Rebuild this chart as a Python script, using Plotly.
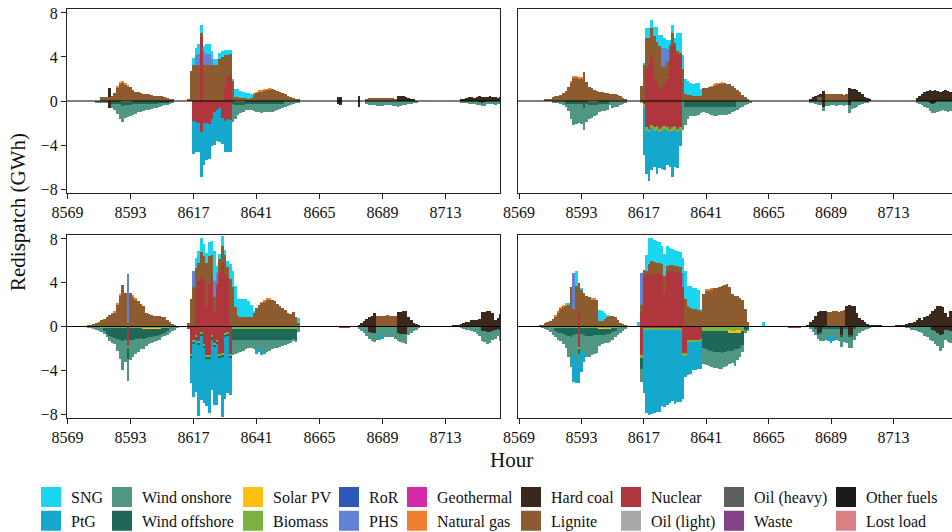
import plotly.graph_objects as go

# ---------------- data ----------------
HOURS = list(range(8569, 8737))
X_TICKS = [8569, 8593, 8617, 8641, 8665, 8689, 8713]
Y_TICKS = [-8, -4, 0, 4, 8]

SERIES = ["SNG", "PtG", "Wind onshore", "Wind offshore", "Solar PV", "Biomass",
          "RoR", "PHS", "Geothermal", "Natural gas", "Hard coal", "Lignite",
          "Nuclear", "Oil (light)", "Oil (heavy)", "Waste", "Other fuels", "Lost load"]
COLORS = ["#1ad5ef", "#14a8cc", "#4f9683", "#1f6758", "#fdbf12", "#7bb242",
          "#2d58b5", "#6183d4", "#d52aa8", "#ef8030", "#3b281d", "#8c5b2f",
          "#b0363e", "#a9a9a9", "#5e5e5e", "#82428a", "#1b1b1b", "#d88083"]

# Each series: {first hour of a run: [hourly values in GWh]}

# ---- top-left panel ----
TL_UP_LIGNITE = {
    8582: [0.35, 0.4, 0.4, 0.35, 0.5, 0.7, 1.2, 1.55, 1.7, 1.5, 1.35, 1.25, 1.0, 0.85, 0.8, 0.7, 0.65, 0.6,
           0.6, 0.55, 0.5, 0.5, 0.5, 0.45, 0.4, 0.3, 0.2, 0.1],
    8615: [0.2, 2.7, 3.3, 3.3, 3.3, 0.4, 3.3, 3.3, 3.3, 3.3, 3.3, 3.3, 3.8, 4.0, 2.8, 2.0, 1.9, 1.9, 0.4, 0.35,
           0.3, 0.3, 0.25, 0.2, 0.3, 0.6, 0.75, 0.85, 0.9, 0.95, 1.0, 1.05, 1.05, 1.0, 0.9, 0.8, 0.7, 0.6, 0.5,
           0.4, 0.3, 0.2, 0.1],
    8683: [0.2, 0.25, 0.3, 0.3, 0.25, 0.3, 0.3, 0.25, 0.3, 0.3, 0.25, 0.2],
}
TL_UP_HARDCOAL = {8585: [0.8], 8672: [0.35, 0.4], 8680: [0.45],
                  8695: [0.45, 0.45, 0.45, 0.4, 0.3, 0.2, 0.1],
                  8719: [0.1, 0.2, 0.3, 0.35, 0.4, 0.3, 0.35, 0.45, 0.4, 0.35, 0.4, 0.45, 0.4, 0.35, 0.3, 0.35]}
TL_DN_HARDCOAL = {8585: [-0.6], 8672: [-0.3, -0.35], 8680: [-0.5], 8726: [-0.1, -0.15, -0.1]}
TL_UP_NUCLEAR = {8620: [5.8], 8629: [1.4, 2.2, 2.4]}
TL_DN_NUCLEAR = {8617: [-1.8, -1.9, -2.0, -2.8, -2.0, -2.0, -2.1, -1.6, -1.0, -0.8, -0.6, -1.5, -1.8, -1.6, -1.7]}
TL_UP_PHS = {8618: [0.9, 1.0, 0.0, 1.2, 1.0, 1.0, 0.5]}
TL_UP_SNG = {8617: [0.6, 0.6, 0.9, 0.7, 0.5, 0.9, 0.9, 0.7, 0.5, 0.5, 0.6, 0.5, 0.4, 0.4, 0.3, 0.1, 0.7, 0.75,
                    0.6, 0.5, 0.5, 0.5, 0.3]}
TL_DN_PTG = {8617: [-3.0, -2.7, -2.6, -4.1, -3.8, -3.4, -3.2, -2.5, -3.0, -2.8, -3.1, -2.4, -2.8, -3.0, -2.9]}
TL_DN_WINDON = {
    8580: [-0.1, -0.1, -0.1, -0.15, -0.1],
    8586: [-0.3, -0.5, -0.9, -1.3, -1.5, -1.2, -1.1, -1.0, -1.0, -0.9, -0.7, -0.7, -0.6, -0.5, -0.5, -0.4,
           -0.35, -0.3, -0.3, -0.25, -0.25, -0.2, -0.15, -0.1],
    8632: [-1.6, -1.2, -0.9, -0.7, -0.6, -0.5, -0.5, -0.5, -0.6, -0.7, -0.7, -0.8, -0.7, -0.7, -0.7, -0.7,
           -0.6, -0.5, -0.4, -0.3, -0.55, -0.45, -0.35, -0.3, -0.2, -0.1],
    8683: [-0.3, -0.35, -0.4, -0.4, -0.45, -0.45, -0.45, -0.4, -0.4, -0.4, -0.45, -0.45, -0.5, -0.45, -0.4,
           -0.35, -0.3, -0.25, -0.2, -0.1],
    8719: [-0.1, -0.15, -0.2, -0.25, -0.3, -0.3, -0.35, -0.3, -0.3, -0.35, -0.3, -0.25, -0.3, -0.35, -0.3, -0.25],
}
TL_DN_WINDOFF = {
    8586: [-0.3, -0.3, -0.3, -0.3, -0.35, -0.3, -0.3, -0.3, -0.3, -0.3, -0.3, -0.3, -0.3, -0.3, -0.3, -0.3,
           -0.3, -0.3, -0.2, -0.2, -0.15, -0.15, -0.1],
    8632: [-0.3, -0.3, -0.3, -0.3, -0.3, -0.3, -0.3, -0.3, -0.3, -0.3, -0.3, -0.3, -0.3, -0.3, -0.3, -0.3,
           -0.3, -0.3, -0.3, -0.3],
}
TL_UP_NATGAS = {8588: [0.08, 0.1, 0.1, 0.08, 0.06], 8640: [0.05, 0.06, 0.06, 0.08, 0.08, 0.08, 0.06]}
TL_DN_SOLAR = {8590: [-0.06, -0.08, -0.08, -0.06], 8633: [-0.1, -0.1, -0.08, -0.08]}

# ---- top-right panel ----
TR_UP_LIGNITE = {
    8579: [0.1, 0.1, 0.15, 0.4, 0.45, 0.5, 0.55, 0.7, 0.9, 1.3, 1.7, 2.1, 2.1, 2.0, 2.05, 2.65, 1.7, 1.3, 1.2,
           1.0, 0.95, 0.85, 0.8, 0.75, 0.7, 0.65, 0.65, 0.6, 0.55, 0.5, 0.3, 0.1],
    8616: [1.4, 3.3, 2.7, 2.5, 2.6, 3.9, 3.6, 3.8, 1.9, 1.6, 1.5, 1.3, 1.0, 0.3, 0.2, 0.2, 2.9, 0.6, 0.55,
           0.55, 0.5, 0.5, 0.45, 0.45, 1.15, 1.2, 1.25, 1.3, 1.4, 1.5, 1.55, 1.6, 1.6, 1.55, 1.5, 1.35, 1.2,
           1.0, 0.8, 0.55, 0.35, 0.15],
    8684: [0.35, 0.4],
    8687: [0.6, 0.6, 0.6, 0.65, 0.6, 0.6, 0.6, 0.55, 0.6],
}
TR_UP_NUCLEAR = {8618: [3.0, 3.2, 4.0, 2.0, 1.8, 1.2, 1.2, 1.5, 2.0, 3.7, 5.2, 5.0, 4.3, 4.2]}
TR_UP_PHS = {8624: [1.7, 1.7, 1.2, 0.2]}
TR_UP_SNG = {8617: [0.1, 0.9, 0.9, 0.8, 0.8, 1.3, 1.0, 1.2, 0.9, 0.8, 0.3, 0.7, 0.4, 1.7, 1.8, 1.3, 1.4, 1.3,
                    1.1, 1.0, 1.1, 1.2, 0.6]}
TR_UP_HARDCOAL = {8681: [0.2, 0.35, 0.45, 0.2, 0.2, 0.95],
                  8696: [1.15, 1.1, 1.05, 1.0, 0.85, 0.6, 0.4, 0.25, 0.1],
                  8722: [0.3, 0.5, 0.6, 0.8, 0.9, 1.0, 0.95, 1.0, 0.9, 0.85, 0.9, 1.0, 0.9, 0.8]}
TR_DN_HARDCOAL = {8686: [-0.5], 8696: [-0.4], 8727: [-0.2, -0.3, -0.2]}
TR_DN_NUCLEAR = {8594: [-0.3],
                 8617: [-0.3, -2.4, -2.5, -2.2, -2.4, -2.3, -2.5, -2.4, -2.3, -2.4, -2.5, -2.4, -2.3, -2.5, -2.4]}
TR_DN_PTG = {8617: [-4.3, -3.9, -4.5, -3.8, -3.3, -4.0, -3.3, -3.5, -3.7, -3.1, -3.2, -4.2, -3.4, -3.3, -1.5]}
TR_DN_BIOMASS = {8616: [-0.2, -0.3, -0.3, -0.3, -0.25, -0.3, -0.3, -0.3, -0.3, -0.25, -0.3, -0.3, -0.3,
                        -0.3, -0.3, -0.2]}
TR_DN_WINDON = {
    8582: [-0.1, -0.15, -0.2, -0.25, -0.35, -0.2, -0.6, -1.3, -1.9, -1.8, -1.7, -1.8, -2.0, -1.6, -1.3, -1.1,
           -1.0, -0.9, -0.7, -0.65, -0.6, -0.5, -0.4, -0.6, -0.55, -0.5, -0.4, -0.3, -0.15],
    8632: [-2.6, -1.7, -1.1, -0.9, -0.9, -0.85, -0.8, -0.6, -0.5, -0.55, -0.7, -0.8, -0.85, -0.85, -0.8, -0.8,
           -0.8, -0.8, -0.7, -0.5, -0.4, -0.8, -0.6, -0.5, -0.35, -0.25, -0.1],
    8681: [-0.1, -0.2, -0.3, -0.35, -0.4, -0.4, -0.45, -0.45, -0.4, -0.4, -0.45, -0.4, -0.4, -0.45, -0.4,
           -0.7, -0.7, -0.6, -0.5, -0.4, -0.3, -0.2, -0.1],
    8722: [-0.2, -0.3, -0.4, -0.5, -0.6, -0.7, -0.8, -0.9, -1.0, -0.9, -0.8, -0.9, -1.0, -0.9],
}
TR_DN_WINDOFF = {
    8587: [-0.3, -0.3, -0.3, -0.3, -0.3, -0.3, -0.3, -0.3, -0.3, -0.3, -0.3, -0.3, -0.3, -0.3, -0.3, -0.3, -0.3],
    8633: [-0.5, -0.5, -0.5, -0.5, -0.5, -0.5, -0.5, -0.5, -0.5, -0.5, -0.5, -0.5, -0.5, -0.5, -0.5, -0.5,
           -0.5, -0.5, -0.5, -0.5],
}
TR_UP_NATGAS = {8589: [0.08, 0.1, 0.1, 0.1, 0.08], 8643: [0.06, 0.08, 0.08, 0.08, 0.06]}
TR_DN_SOLAR = {8596: [-0.08, -0.1, -0.1, -0.08]}

# ---- bottom-left panel ----
BL_UP_LIGNITE = {
    8577: [0.1, 0.15, 0.25, 0.3, 0.4, 0.55, 0.7, 0.9, 1.05, 1.15, 1.3, 2.0, 2.8, 3.8, 3.1, 0.3, 3.1, 2.75, 2.5,
           2.3, 2.1, 1.9, 1.2, 1.1, 1.05, 1.0, 1.0, 0.95, 0.9, 0.85, 0.6, 0.4, 0.25, 0.1],
    8615: [0.3, 2.5, 3.6, 1.9, 1.6, 2.4, 2.2, 4.0, 2.5, 2.0, 1.5, 0.5, 1.2, 1.6, 1.7, 0.9, 4.3, 3.6, 1.8, 1.0,
           0.9, 0.9, 0.9, 0.9, 0.9, 1.3, 1.7, 2.0, 2.15, 2.3, 2.45, 2.45, 2.4, 2.3, 2.1, 1.9, 1.7, 1.5, 1.2,
           1.15, 1.3, 0.9, 0.3],
    8687: [1.0, 0.95, 1.0, 1.0, 1.05, 1.0, 0.95, 1.0],
}
BL_UP_PHS = {8592: [4.5], 8617: [1.5], 8625: [1.5, 1.0]}
BL_UP_NUCLEAR = {8618: [3.4, 4.2, 4.4, 4.2, 1.8, 3.9, 4.5, 1.2, 3.4, 5.0, 5.8, 4.8, 4.5]}
BL_UP_SNG = {8618: [1.0, 1.1, 1.3, 1.1, 0.9, 1.3, 1.3, 2.7, 0.6, 0.4, 0.9, 0.5, 0.6, 1.4, 1.5, 1.9, 1.5, 1.6,
                    1.6, 1.6, 1.4, 1.1, 0.1],
             8657: [0.5]}
BL_UP_HARDCOAL = {8680: [0.15, 0.3, 0.5, 0.7, 0.85, 1.0, 1.2],
                  8695: [1.3, 1.35, 1.4, 1.45, 0.9, 0.6, 0.35, 0.2, 0.1],
                  8716: [0.05, 0.1, 0.15, 0.25, 0.3, 0.4, 0.45, 0.55, 0.55, 0.55, 0.7, 1.3, 1.35, 1.45, 1.45,
                         1.2, 0.55, 0.8, 1.1, 1.3]}
BL_DN_NUCLEAR = {8592: [-1.8],
                 8615: [-0.2, -2.5, -1.2, -0.8, -1.3, -0.5, -1.6, -2.6, -2.6, -0.8, -1.5, -1.2, -2.5, -2.4,
                        -0.6, -0.5, -2.5],
                 8673: [-0.1, -0.1, -0.1, -0.1]}
BL_DN_PTG = {8590: [-0.4],
             8616: [-2.3, -4.8, -4.8, -6.5, -5.8, -5.0, -4.3, -4.9, -4.6, -5.3, -5.6, -3.4, -5.5, -5.6, -5.2, -3.4],
             8641: [-0.4, 0.0, -0.5],
             8688: [-0.4, -0.3]}
BL_DN_BIOMASS = {
    8582: [-0.15, -0.15, -0.15, -0.15, -0.15, -0.15, -0.15, -0.15, -0.15, -0.15, -0.15, -0.15, -0.15, -0.15,
           -0.15, -0.15, -0.15, -0.15, -0.15, -0.15, -0.15, -0.15, -0.15, -0.15, -0.15, -0.15],
    8616: [-0.2, -0.2, -0.2, -0.2, -0.2, -0.2, -0.2, -0.2, -0.2, -0.2, -0.2, -0.2, -0.2, -0.2, -0.2, -0.2,
           -0.2, -0.2, -0.2, -0.2, -0.2, -0.2, -0.2, -0.2, -0.2, -0.2, -0.2, -0.2, -0.2, -0.2, -0.2, -0.2,
           -0.2, -0.2, -0.2, -0.2, -0.2, -0.2, -0.2, -0.2, -0.2],
}
BL_DN_WINDOFF = {
    8583: [-0.3, -0.5, -0.7, -0.8, -0.9, -1.0, -1.1, -1.2, -1.1, -1.0, -1.1, -1.1, -1.0, -1.0, -0.9, -0.9,
           -0.8, -0.7, -0.7, -0.6, -0.6, -0.5, -0.5, -0.4, -0.3],
    8616: [-0.2, -0.2, -0.2, -0.2, -0.2, -0.2, -0.2, -0.2, -0.2, -0.2, -0.2, -0.2, -0.2, -0.2, -0.2, -0.2,
           -1.0, -1.0, -1.0, -1.0, -1.0, -1.0, -1.0, -1.0, -1.0, -1.0, -1.0, -1.0, -1.0, -1.0, -1.0, -1.0,
           -1.0, -1.0, -1.0, -1.0, -1.0, -1.0, -1.0, -1.0, -1.0],
}
BL_DN_WINDON = {
    8577: [-0.1, -0.15, -0.2, -0.3, -0.4, -0.35, -0.25, -0.35, -0.45, -0.55, -0.55, -1.05, -1.75, -2.25, -1.95,
           -2.05, -1.85, -1.55, -1.35, -1.15, -1.05, -0.95, -0.75, -0.65, -0.55, -0.55, -0.45, -0.45, -0.35,
           -0.35, -0.35, -0.6, -0.45, -0.3, -0.15],
    8632: [-1.4, -1.3, -1.2, -1.1, -1.0, -0.9, -0.8, -0.8, -0.9, -0.9, -1.1, -0.9, -1.3, -1.1, -1.0, -0.9,
           -0.8, -0.8, -0.7, -0.6, -0.5, -0.4, -0.3, -0.1, -0.2, -0.5],
    8680: [-0.2, -0.4, -0.6, -0.9, -0.6, -0.7, -0.8, -1.2, -0.8, -0.8, -1.0, -1.0, -1.0, -1.0, -1.1, -0.7,
           -0.7, -0.8, -0.9, -0.8, -0.6, -0.4, -0.3, -0.15],
    8719: [-0.1, -0.2, -0.3, -0.35, -0.4, -0.5, -0.7, -0.9, -0.9, -1.0, -1.1, -1.0, -0.8, -0.8, -0.7, -1.0, -0.9],
}
BL_DN_HARDCOAL = {8684: [-0.5, -0.6, -0.6], 8695: [-0.6, -0.7, -0.7, -0.7],
                  8727: [-0.4, -0.4, -0.5, -0.5, -0.4, -0.3, -0.2, -0.3, -0.3]}
BL_UP_NATGAS = {8586: [0.08, 0.1, 0.1, 0.1], 8594: [0.08, 0.08], 8643: [0.06, 0.06, 0.08, 0.08]}
BL_DN_SOLAR = {8598: [-0.1, -0.1, -0.1, -0.1, -0.12, -0.12, -0.1]}

# ---- bottom-right panel ----
BR_UP_LIGNITE = {
    8577: [0.1, 0.15, 0.3, 0.4, 0.5, 0.7, 0.9, 1.3, 1.6, 1.8, 1.9, 2.0, 3.6, 1.6, 3.7, 2.7, 3.3, 3.1, 2.8,
           2.7, 2.5, 2.5, 2.4, 0.5, 0.5, 0.7, 0.9, 1.0, 1.0, 0.9, 0.6, 0.35, 0.2, 0.1],
    8616: [0.7, 0.6, 0.3, 1.0, 1.2, 1.1, 1.0, 1.0, 1.0, 1.5, 0.4, 0.5, 0.5, 0.5, 0.5, 0.5, 0.0, 2.5, 1.9,
           1.7, 1.6, 1.6, 1.5, 1.5, 3.0, 3.3, 3.3, 3.4, 3.5, 3.5, 3.6, 3.7, 3.8, 3.9, 3.6, 3.0, 2.8, 2.8,
           2.6, 2.4, 1.6, 0.4],
    8688: [1.35, 1.35, 1.4, 1.45, 1.35, 1.4, 1.5],
}
BR_UP_PHS = {8590: [3.3], 8616: [2.9], 8632: [1.3]}
BR_UP_NUCLEAR = {8592: [1.3],
                 8616: [1.3, 4.6, 4.8, 4.7, 4.8, 4.8, 4.8, 4.8, 4.7, 3.1, 5.1, 5.1, 5.1, 5.0, 5.0, 4.9, 3.6]}
BR_UP_SNG = {8587: [0.15, 0.1], 8591: [1.4], 8593: [0.2], 8600: [1.0, 0.9, 0.5, 0.1],
             8615: [0.45, 0.0, 0.0, 1.4, 2.4, 2.1, 2.0, 2.0, 1.9, 1.7, 2.0, 1.9, 1.6, 1.5, 1.5, 1.4, 1.4, 1.4,
                    2.6, 1.8, 2.0, 1.9, 1.9, 1.8, 0.1],
             8663: [0.45]}
BR_UP_HARDCOAL = {8680: [0.1, 0.4, 0.6, 1.0, 1.3, 1.45, 1.4, 1.45],
                  8695: [1.9, 1.95, 1.9, 1.9, 1.2, 0.75, 0.6, 0.4, 0.2, 0.15, 0.1, 0.1, 0.1, 0.05],
                  8714: [0.05, 0.1, 0.1, 0.15, 0.2, 0.3, 0.35, 0.45, 0.55, 0.8, 0.6, 0.9, 1.0, 1.1, 1.45, 1.6,
                         1.9, 1.85, 1.75, 1.2, 0.9, 1.4]}
BR_DN_NUCLEAR = {8592: [-1.9],
                 8616: [-2.6, -0.2, -0.2, -0.2, -0.2, -0.2, -0.2, -0.2, -0.2, -0.2, -0.2, -0.2, -0.2, -0.2,
                        -0.2, -0.2, -2.5, -2.5, -1.3, -1.3, -1.3, -1.3, -1.3, -1.2],
                 8673: [-0.1, -0.1, -0.1, -0.1, -0.1]}
BR_DN_PTG = {8590: [-2.6, -2.4, -1.6, -1.9, -1.0],
             8617: [-5.75, -7.55, -7.75, -7.65, -7.55, -7.45, -7.45, -6.95, -7.05, -6.85, -6.65, -6.45, -6.75,
                    -6.55, -6.55, -3.95, -1.95, -2.95, -2.85, -2.55, -2.55, -2.45, -2.55],
             8652: [-0.4],
             8688: [-0.4, -0.5, -0.3]}
BR_DN_BIOMASS = {
    8581: [-0.15, -0.15, -0.15, -0.15, -0.15, -0.15, -0.15, -0.15, -0.15, -0.15, -0.15, -0.15, -0.15, -0.15,
           -0.15, -0.15, -0.15, -0.15, -0.15, -0.15, -0.15, -0.15, -0.15, -0.15, -0.15, -0.15, -0.15],
    8616: [-0.3, -0.15, -0.15, -0.15, -0.15, -0.15, -0.15, -0.15, -0.15, -0.15, -0.15, -0.15, -0.15, -0.15,
           -0.15, -0.15, -0.15, -0.15, -0.15, -0.15, -0.15, -0.15, -0.15, -0.15, -0.4, -0.4, -0.4, -0.4,
           -0.4, -0.4, -0.4, -0.4, -0.4, -0.4, -0.4, -0.4, -0.4, -0.4, -0.4, -0.4],
}
BR_DN_WINDOFF = {
    8583: [-0.3, -0.4, -0.4, -0.5, -0.6, -0.7, -0.8, -0.6, -0.5, -0.5, -0.5, -0.6, -0.7, -0.7, -0.7, -0.6,
           -0.6, -0.5, -0.5, -0.5, -0.45, -0.4, -0.35, -0.3],
    8616: [-1.0],
    8640: [-1.6, -1.7, -1.8, -1.8, -1.9, -1.9, -1.9, -2.0, -1.9, -1.8, -1.7, -1.6, -1.5, -1.5, -1.4, -1.3,
           -0.3, -0.2],
    8683: [-0.2, -0.2, -0.2, -0.2, -0.2, -0.2, -0.2, -0.2, -0.2, -0.2, -0.2, -0.2, -0.2, -0.2, -0.2, -0.2],
}
BR_DN_WINDON = {
    8578: [-0.1, -0.2, -0.3, -0.35, -0.65, -0.55, -0.65, -0.75, -0.95, -1.25, -1.95, -2.75, -1.75, -2.15,
           -1.05, -1.65, -1.45, -1.95, -1.95, -1.75, -1.75, -1.65, -1.05, -0.85, -0.75, -0.8, -0.75, -0.7,
           -0.55, -0.65, -0.6, -0.4, -0.2],
    8616: [-1.2],
    8640: [-1.4, -1.4, -1.4, -1.5, -1.45, -1.5, -1.55, -1.5, -1.4, -1.4, -1.2, -1.1, -1.1, -1.0, -0.8, -0.6,
           -0.3, -0.2],
    8681: [-0.2, -0.5, -0.6, -0.3, -0.6, -1.1, -1.0, -0.7, -0.8, -0.8, -1.0, -1.1, -0.9, -1.2, -1.3, -1.0,
           -1.0, -1.0, -0.9, -0.6, -0.4, -0.3, -0.2, -0.1],
    8718: [-0.1, -0.15, -0.3, -0.35, -0.4, -0.5, -0.6, -0.9, -1.0, -1.2, -1.0, -1.2, -1.2, -1.4, -1.3, -0.9,
           -1.1, -1.1],
}
BR_DN_HARDCOAL = {8684: [-0.6, -0.5], 8693: [-0.8], 8696: [-0.8, -0.8],
                  8728: [-0.3, -0.4, -0.6, -0.8, -0.7, -0.3, -0.3, -0.4]}
BR_UP_NATGAS = {8583: [0.06, 0.08, 0.1, 0.1, 0.1], 8597: [0.08, 0.08], 8641: [0.05, 0.06, 0.06]}
BR_DN_SOLAR = {8600: [-0.1, -0.12, -0.12, -0.1, -0.1], 8650: [-0.15, -0.2, -0.2, -0.15, -0.15]}

PANELS = [
    ("x", "y",
     {"SNG": TL_UP_SNG, "PHS": TL_UP_PHS, "Natural gas": TL_UP_NATGAS, "Hard coal": TL_UP_HARDCOAL,
      "Lignite": TL_UP_LIGNITE, "Nuclear": TL_UP_NUCLEAR},
     {"PtG": TL_DN_PTG, "Wind onshore": TL_DN_WINDON, "Wind offshore": TL_DN_WINDOFF, "Solar PV": TL_DN_SOLAR,
      "Hard coal": TL_DN_HARDCOAL, "Nuclear": TL_DN_NUCLEAR}),
    ("x2", "y2",
     {"SNG": TR_UP_SNG, "PHS": TR_UP_PHS, "Natural gas": TR_UP_NATGAS, "Hard coal": TR_UP_HARDCOAL,
      "Lignite": TR_UP_LIGNITE, "Nuclear": TR_UP_NUCLEAR},
     {"PtG": TR_DN_PTG, "Wind onshore": TR_DN_WINDON, "Wind offshore": TR_DN_WINDOFF, "Solar PV": TR_DN_SOLAR,
      "Biomass": TR_DN_BIOMASS, "Hard coal": TR_DN_HARDCOAL, "Nuclear": TR_DN_NUCLEAR}),
    ("x3", "y3",
     {"SNG": BL_UP_SNG, "PHS": BL_UP_PHS, "Natural gas": BL_UP_NATGAS, "Hard coal": BL_UP_HARDCOAL,
      "Lignite": BL_UP_LIGNITE, "Nuclear": BL_UP_NUCLEAR},
     {"PtG": BL_DN_PTG, "Wind onshore": BL_DN_WINDON, "Wind offshore": BL_DN_WINDOFF, "Solar PV": BL_DN_SOLAR,
      "Biomass": BL_DN_BIOMASS, "Hard coal": BL_DN_HARDCOAL, "Nuclear": BL_DN_NUCLEAR}),
    ("x4", "y4",
     {"SNG": BR_UP_SNG, "PHS": BR_UP_PHS, "Natural gas": BR_UP_NATGAS, "Hard coal": BR_UP_HARDCOAL,
      "Lignite": BR_UP_LIGNITE, "Nuclear": BR_UP_NUCLEAR},
     {"PtG": BR_DN_PTG, "Wind onshore": BR_DN_WINDON, "Wind offshore": BR_DN_WINDOFF, "Solar PV": BR_DN_SOLAR,
      "Biomass": BR_DN_BIOMASS, "Hard coal": BR_DN_HARDCOAL, "Nuclear": BR_DN_NUCLEAR}),
]


def expand(segments):
    vals = [0.0] * len(HOURS)
    for start, seq in segments.items():
        for i, v in enumerate(seq):
            vals[start - HOURS[0] + i] = v
    return vals


# ---------------- figure ----------------
W, H = 952, 532
FONT = "Liberation Serif"
color_of = dict(zip(SERIES, COLORS))
stack_order = list(reversed(SERIES))  # nearest to zero first

fig = go.Figure()
for xa, ya, up, dn in PANELS:
    for name in stack_order:
        for part in (up, dn):
            if name in part:
                fig.add_trace(go.Bar(
                    x=HOURS, y=expand(part[name]), width=1,
                    marker=dict(color=color_of[name], line=dict(width=0)),
                    xaxis=xa, yaxis=ya, showlegend=False, hoverinfo="skip", name=name))

# legend entries (9 columns x 2 rows)
LEG_LEFT_PX = [31, 102, 233, 329, 397, 511, 611, 714, 826]
legends = {}
for col in range(9):
    key = "legend" if col == 0 else "legend%d" % (col + 1)
    legends[key] = dict(x=LEG_LEFT_PX[col] / W, y=1 - 480 / H, xanchor="left", yanchor="top",
                        orientation="v", bgcolor="rgba(0,0,0,0)", borderwidth=0,
                        font=dict(family=FONT, size=16, color="#111"), traceorder="normal")
    for k in (2 * col, 2 * col + 1):
        fig.add_trace(go.Scatter(
            x=[None], y=[None], mode="markers", name=SERIES[k], legend=key,
            marker=dict(symbol="square", size=16, color=COLORS[k], line=dict(color=COLORS[k], width=4)),
            showlegend=True, xaxis="x", yaxis="y"))

xl = [67 / W, 500 / W]
xr = [518 / W, 1.0]
yt = [1 - 193 / H, 1 - 9 / H]
yb = [1 - 418 / H, 1 - 235 / H]

tickfont = dict(family=FONT, size=16, color="#111")
common_x = dict(tickvals=X_TICKS, ticks="outside", ticklen=5, tickwidth=1, tickcolor="#222",
                showline=True, linecolor="#222", linewidth=1.3, mirror=True, showgrid=False,
                zeroline=False, tickfont=tickfont, automargin=False)
common_y = dict(range=[-8.36, 8.36], showline=True, linecolor="#222", linewidth=1.3, showgrid=False,
                zeroline=False, tickfont=tickfont, automargin=False)

layout = dict(
    width=W, height=H, margin=dict(l=0, r=0, t=0, b=0, autoexpand=False),
    paper_bgcolor="white", plot_bgcolor="white",
    barmode="relative", bargap=0,
    font=dict(family=FONT, color="#111"),
    xaxis=dict(domain=xl, anchor="y", range=[8568.8, 8733.8], **common_x),
    xaxis2=dict(domain=xr, anchor="y2", range=[8568.6, 8735.5], **common_x),
    xaxis3=dict(domain=xl, anchor="y3", range=[8568.8, 8733.8], **common_x),
    xaxis4=dict(domain=xr, anchor="y4", range=[8568.6, 8735.5], **common_x),
    yaxis=dict(domain=yt, anchor="x", tickvals=Y_TICKS, ticks="outside", ticklen=5, tickcolor="#222",
               mirror=True, **common_y),
    yaxis2=dict(domain=yt, anchor="x2", showticklabels=False, ticks="", mirror=False, **common_y),
    yaxis3=dict(domain=yb, anchor="x3", tickvals=Y_TICKS, ticks="outside", ticklen=5, tickcolor="#222",
                mirror=True, **common_y),
    yaxis4=dict(domain=yb, anchor="x4", showticklabels=False, ticks="", mirror=False, **common_y),
    shapes=[dict(type="line", xref="%s domain" % xa, yref=ya, x0=0, x1=1, y0=0, y1=0, layer="above",
                 line=dict(color="black", width=1.2)) for xa, ya in
            [("x", "y"), ("x2", "y2"), ("x3", "y3"), ("x4", "y4")]],
    annotations=[
        dict(text="Hour", x=511 / W, y=1 - 460 / H, xref="paper", yref="paper", showarrow=False,
             font=dict(family=FONT, size=21, color="#111"), xanchor="center", yanchor="middle"),
        dict(text="Redispatch (GWh)", x=18 / W, y=1 - 212 / H, xref="paper", yref="paper", showarrow=False,
             textangle=-90, font=dict(family=FONT, size=21, color="#111"), xanchor="center",
             yanchor="middle"),
    ],
)
layout.update(legends)
fig.update_layout(**layout)

fig.write_html("out.html")
